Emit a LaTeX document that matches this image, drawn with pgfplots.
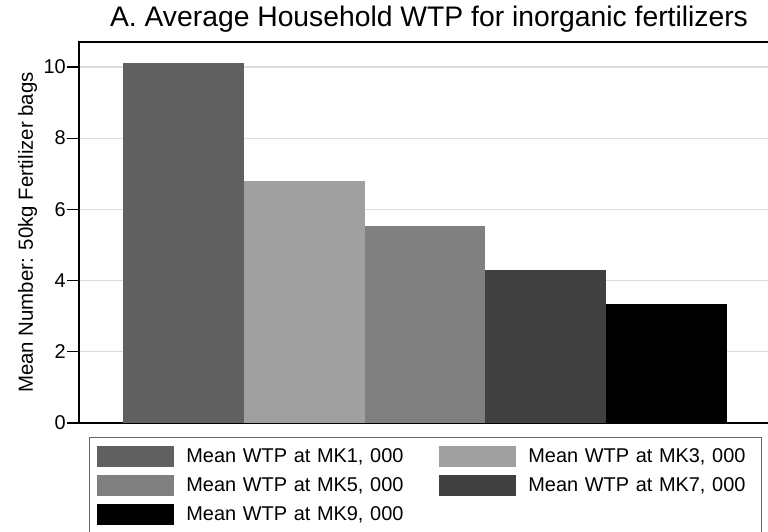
\documentclass[border=0pt]{standalone}
\usepackage{fontspec}
\setmainfont{Liberation Sans}
\usepackage{pgfplots}
\pgfplotsset{compat=1.18}
\definecolor{gsA}{RGB}{96,96,96}
\definecolor{gsB}{RGB}{160,160,160}
\definecolor{gsC}{RGB}{128,128,128}
\definecolor{gsD}{RGB}{64,64,64}
\definecolor{gsE}{RGB}{0,0,0}
\definecolor{gridc}{RGB}{220,220,220}
\begin{document}
\begin{tikzpicture}
\path[use as bounding box] (-79bp,-109bp) rectangle (689bp,423bp);
\begin{axis}[
  at={(0,0)}, anchor=south west,
  scale only axis, width=692bp, height=381bp,
  xmin=-0.86, xmax=4.86, ymin=0, ymax=10.7,
  ybar, bar width=1, bar shift=0pt,
  xtick=\empty, ytick={0,2,4,6,8,10},
  ymajorgrids, grid style={line width=1.2bp, color=gridc},
  axis line style={line width=1.2bp, black},
  major tick length=12bp, tick align=outside,
  ytick style={line width=1.2bp, black},
  /pgf/number format/assume math mode=true,
  yticklabel style={font=\fontsize{20}{24}\selectfont, inner sep=0pt, xshift=-1bp},
  title={A. Average Household WTP for inorganic fertilizers},
  title style={font=\fontsize{28.4}{34}\selectfont, at={(0.5,1)}, anchor=base, yshift=10bp, xshift=4bp},
  ylabel={Mean Number: 50kg Fertilizer bags},
  ylabel style={font=\fontsize{20.5}{24}\selectfont, at={(-0.0665,0.5)}, anchor=base},
  legend columns=2,
  legend cell align=left,
  legend style={at={(0.01445,-0.036)}, anchor=north west, draw=black!60, line width=0.8bp,
    inner xsep=8bp, inner ysep=9bp, row sep=8bp,
    font=\fontsize{20}{24}\selectfont,
    nodes={inner sep=0pt, text width=225bp, align=left},
    /tikz/every odd column/.append style={column sep=12bp},
    /tikz/every even column/.append style={column sep=28bp}},
  legend image code/.code={\fill[#1] (0bp,-10.5bp) rectangle (77bp,10.5bp);},
]
\addplot[fill=gsA, draw=none] coordinates {(0,10.12)};
\addlegendentry{Mean WTP at MK1, 000}
\addplot[fill=gsB, draw=none] coordinates {(1,6.80)};
\addlegendentry{Mean WTP at MK3, 000}
\addplot[fill=gsC, draw=none] coordinates {(2,5.53)};
\addlegendentry{Mean WTP at MK5, 000}
\addplot[fill=gsD, draw=none] coordinates {(3,4.30)};
\addlegendentry{Mean WTP at MK7, 000}
\addplot[fill=gsE, draw=none] coordinates {(4,3.34)};
\addlegendentry{Mean WTP at MK9, 000}
\end{axis}
\end{tikzpicture}
\end{document}
